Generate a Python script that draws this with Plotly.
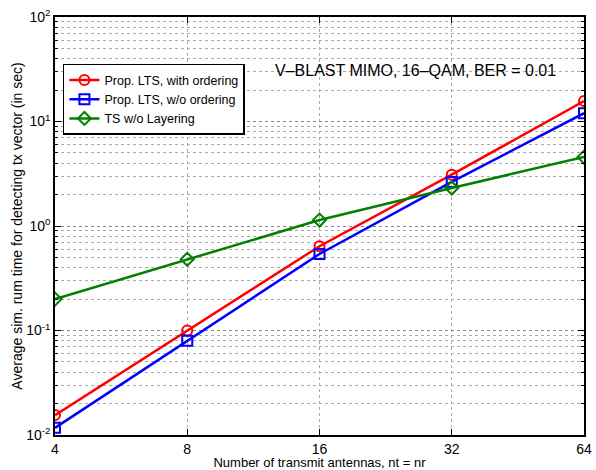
import plotly.graph_objects as go

antennas = [4, 8, 16, 32, 64]
lts_ordering = [0.0155, 0.100, 0.64, 3.1, 15.7]
lts_no_ordering = [0.0117, 0.080, 0.54, 2.64, 12.0]
ts_no_layering = [0.20, 0.48, 1.14, 2.31, 4.57]

y_tickvals = [0.01, 0.1, 1, 10, 100]
y_ticktext = ["10<sup>-2</sup>", "10<sup>-1</sup>", "10<sup>0</sup>", "10<sup>1</sup>", "10<sup>2</sup>"]

fig = go.Figure()
series = [
    ("Prop. LTS, with ordering", lts_ordering, "#ff0000", "circle-open"),
    ("Prop. LTS, w/o ordering", lts_no_ordering, "#0000ff", "square-open"),
    ("TS w/o Layering", ts_no_layering, "#007f00", "diamond-open"),
]
for name, vals, col, sym in series:
    fig.add_trace(go.Scatter(
        x=antennas, y=vals, name=name, mode="lines+markers",
        line=dict(color=col, width=2.5),
        marker=dict(symbol=sym, size=10, color=col, line=dict(width=2, color=col)),
    ))

font = "Liberation Sans, Arial, sans-serif"
fig.update_layout(
    width=596, height=470,
    margin=dict(l=55, r=12, t=17, b=35),
    paper_bgcolor="white", plot_bgcolor="white",
    font=dict(family=font, size=12, color="black"),
    showlegend=True,
    legend=dict(x=0.015, y=0.888, xanchor="left", yanchor="top",
                bgcolor="white", bordercolor="black", borderwidth=1.5,
                font=dict(size=12.5), tracegroupgap=0, itemwidth=30),
    annotations=[dict(text="V\u2013BLAST MIMO, 16\u2013QAM, BER = 0.01", x=0.682, y=0.873,
                      xref="paper", yref="paper", xanchor="center", yanchor="middle",
                      showarrow=False, font=dict(size=16, family=font))],
)
fig.update_xaxes(
    type="log", range=[0.60206, 1.80618], automargin=False,
    tickvals=antennas, ticktext=[str(a) for a in antennas],
    showgrid=True, gridcolor="#aaaaaa", griddash="dot", gridwidth=1,
    showline=True, linecolor="black", linewidth=1.5, mirror="ticks",
    ticks="inside", ticklen=6, tickcolor="black", tickfont=dict(size=14),
    title=dict(text="Number of transmit antennas, nt = nr", standoff=0, font=dict(size=13)),
    zeroline=False,
)
fig.update_yaxes(
    type="log", range=[-2, 2], automargin=False,
    tickvals=y_tickvals, ticktext=y_ticktext,
    showgrid=True, gridcolor="#888888", griddash="dot", gridwidth=1,
    minor=dict(showgrid=True, gridcolor="#aaaaaa", griddash="dot", ticks="inside",
               ticklen=3, tickcolor="black", dtick="D1"),
    showline=True, linecolor="black", linewidth=1.5, mirror="ticks",
    ticks="inside", ticklen=6, tickcolor="black",
    title=dict(text="Average sim. rum time for detecting tx vector (in sec)", standoff=0, font=dict(size=14)),
    zeroline=False, tickfont=dict(size=14),
)
fig.write_html("out.html")
